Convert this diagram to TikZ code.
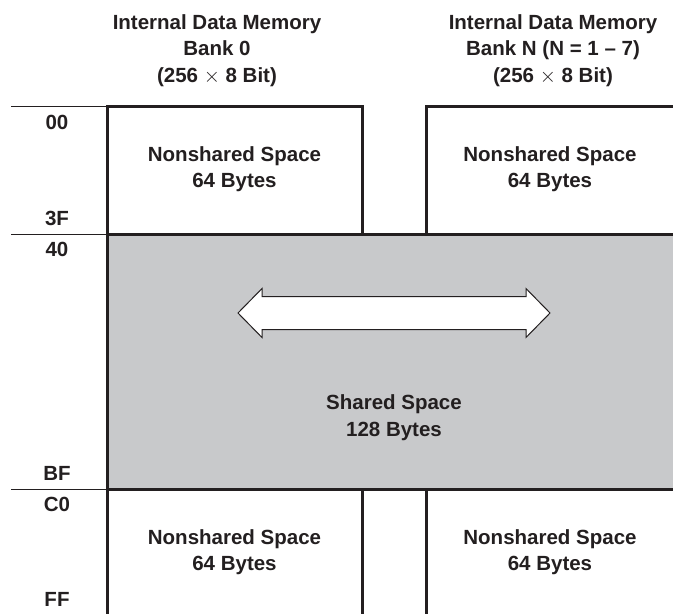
\documentclass[tikz,border=0pt]{standalone}
\usepackage{fontspec}
\setmainfont{Liberation Sans}
\definecolor{ink}{RGB}{35,31,32}
\definecolor{sharedgray}{RGB}{200,201,203}

\begin{document}
\begin{tikzpicture}
  [x=1pt,y=-1pt,every node/.style={font=\bfseries\fontsize{20.5}{26.5}\selectfont,text=ink,align=center,inner sep=0pt},
   wall/.style={line width=3pt,draw=ink},
   rule/.style={line width=1pt,draw=ink}]
  \useasboundingbox (0,0) rectangle (673,614);
  \fill[sharedgray] (107,234) rectangle (673,489);

  % headings
  \node (bank0) at (217,50.5) {Internal Data Memory\\Bank 0\\(256 $\times$ 8 Bit)};
  \node (bankN) at (553,50.5) {Internal Data Memory\\Bank N (N = 1 -- 7)\\(256 $\times$ 8 Bit)};

  % address labels
  \foreach \y/\a in {122/00,218/3F,249/40,473/BF,504/C0,599/FF}
    \node (adr\a) at (57,\y) {\a};
  \foreach \y in {106,234,489}
    \draw[rule] (11,\y) -- (107,\y);

  % spaces
  \node (top0) at (234.5,169) {Nonshared Space\\64 Bytes};
  \node (topN) at (550,169) {Nonshared Space\\64 Bytes};
  \node (shared) at (394,417.5) {Shared Space\\128 Bytes};
  \node (bot0) at (234.5,552) {Nonshared Space\\64 Bytes};
  \node (botN) at (550,552) {Nonshared Space\\64 Bytes};

  \draw[wall] (107,614) -- (107,106) -- (362,106) -- (362,234);
  \draw[wall] (673,106) -- (426,106) -- (426,234);
  \draw[wall] (107,234) -- (673,234);
  \draw[wall] (107,489) -- (673,489);
  \foreach \x in {362,426}
    \draw[wall] (\x,489) -- (\x,614);

  % both ways arrow
  \draw[rule,fill=white] (238,313) -- (262,288.5) -- (262,296.5) -- (526,296.5) -- (526,288.5)
    -- (550,313) -- (526,337.5) -- (526,329.5) -- (262,329.5) -- (262,337.5) -- cycle;

\end{tikzpicture}
\end{document}
